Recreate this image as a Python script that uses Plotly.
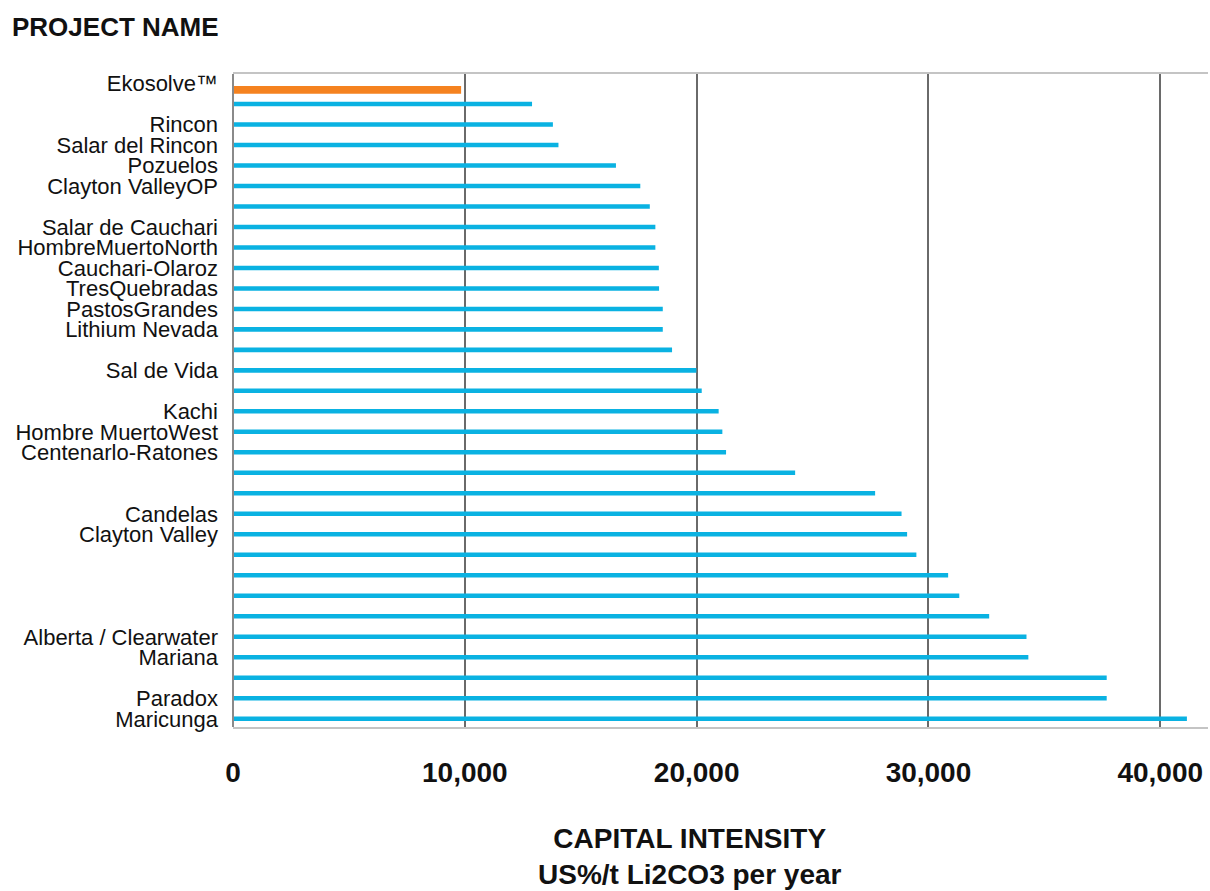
import plotly.graph_objects as go

# ---------------- data ----------------
project_labels = [
    "Ekosolve™", "", "Rincon", "Salar del Rincon", "Pozuelos", "Clayton ValleyOP", "",
    "Salar de Cauchari", "HombreMuertoNorth", "Cauchari-Olaroz", "TresQuebradas",
    "PastosGrandes", "Lithium Nevada", "", "Sal de Vida", "", "Kachi",
    "Hombre MuertoWest", "Centenarlo-Ratones", "", "", "Candelas", "Clayton Valley",
    "", "", "", "", "Alberta / Clearwater", "Mariana", "", "Paradox", "Maricunga",
]
capital_intensity = [
    9840, 12900, 13800, 14040, 16520, 17570, 17980, 18220, 18220, 18370, 18380,
    18540, 18540, 18940, 19990, 20220, 20950, 21110, 21270, 24250, 27700, 28840,
    29080, 29480, 30850, 31330, 32620, 34230, 34310, 37690, 37690, 41150,
]
x_tick_values = [0, 10000, 20000, 30000, 40000]
x_tick_labels = ["0", "10,000", "20,000", "30,000", "40,000"]

positions = list(range(len(project_labels)))

BLUE = "#0AB2E2"
ORANGE = "#F5821F"
FONT = "Arial, Liberation Sans, sans-serif"

fig = go.Figure()

# peer projects
fig.add_trace(go.Bar(
    orientation="h",
    y=positions[1:],
    x=capital_intensity[1:],
    marker=dict(color=BLUE, line=dict(width=0)),
    width=0.22,
    showlegend=False,
))
# highlighted project
fig.add_trace(go.Bar(
    orientation="h",
    y=positions[:1],
    x=capital_intensity[:1],
    marker=dict(color=ORANGE, line=dict(width=0)),
    width=0.38,
    offset=0.12,
    showlegend=False,
))

fig.update_layout(
    width=1210, height=891,
    template="none",
    paper_bgcolor="white", plot_bgcolor="white",
    barmode="overlay",
    margin=dict(l=233, r=2, t=74, b=164),
    font=dict(family=FONT, color="#111111"),
    title=dict(
        text="<b>PROJECT NAME</b>",
        x=12 / 1210, xanchor="left", xref="container",
        y=1 - 27 / 891, yanchor="middle", yref="container",
        font=dict(size=26, family=FONT, color="#111111"),
    ),
    xaxis=dict(
        range=[0, 42060],
        tickvals=x_tick_values,
        ticktext=["<b>%s</b>" % t for t in x_tick_labels],
        tickfont=dict(size=28, family=FONT, color="#111111"),
        showgrid=True, gridcolor="#6a6a6a", gridwidth=1.5,
        zeroline=False,
        showline=True, linecolor="#c4c4c4", linewidth=2, mirror=True,
        ticks="", ticklabelstandoff=19,
    ),
    yaxis=dict(
        range=[31.4, -0.46],
        tickvals=positions,
        ticktext=project_labels,
        tickfont=dict(size=22, family=FONT, color="#111111"),
        showgrid=False, zeroline=False,
        showline=False,
        ticks="", ticklabelstandoff=14,
    ),
    shapes=[
        dict(type="line", xref="paper", yref="paper", x0=0, x1=0, y0=0, y1=1,
             line=dict(color="#8a8a8a", width=2)),
    ],
    annotations=[
        dict(
            text="<b>CAPITAL INTENSITY</b><br><b>US%/t Li2CO3 per year</b>",
            xref="paper", yref="paper",
            x=(690 - 233) / 975, y=(727 - 856) / 653,
            xanchor="center", yanchor="middle",
            showarrow=False,
            font=dict(size=28, family=FONT, color="#111111"),
        )
    ],
)

fig.write_html("out.html")
